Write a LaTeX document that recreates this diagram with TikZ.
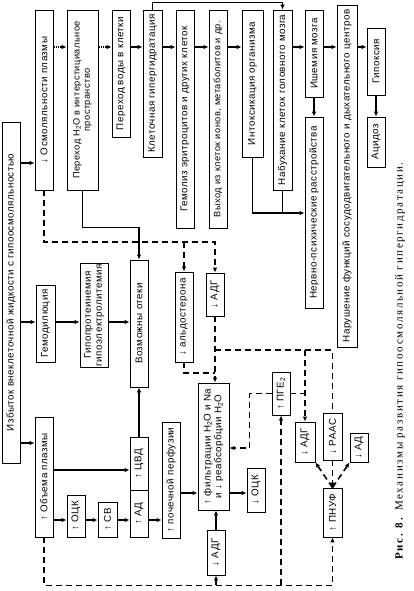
\documentclass[tikz,border=0pt]{standalone}
\usepackage{fontspec}
\setmainfont{Liberation Sans}[LetterSpace=5]
\newfontfamily\capfont{Liberation Serif}[LetterSpace=15]
\usetikzlibrary{arrows.meta}

\begin{document}
\begin{tikzpicture}[x=1pt, y=-1pt,
  box/.style={draw, line width=0.8pt, rotate=90, inner sep=1pt, align=center, font=\fontsize{9.8}{10.8}\selectfont},
  small/.style={font=\fontsize{9.2}{10.4}\selectfont},
  arr/.style={line width=1.3pt, -{Latex[length=5pt, width=4.5pt]}},
  ln/.style={line width=1.3pt},
  dsh/.style={line width=1.6pt, dash pattern=on 6pt off 4pt},
  darr/.style={dsh, -{Latex[length=5pt, width=4.5pt]}},
  dotarr/.style={line width=1.3pt, densely dotted, -{Latex[length=5pt, width=4.5pt]}}]
\fill[white] (0,0) rectangle (413,591);
\useasboundingbox (0,0) rectangle (413,591);
% upper row
\node[box, minimum width=341pt, minimum height=18pt] (izb) at (11,292.5) {Избыток внеклеточной жидкости с гипоосмоляльностью};
\node[box, minimum width=180pt, minimum height=18pt] (osm) at (44,100) {↓ Осмоляльности плазмы};
\node[box, small, minimum width=180pt, minimum height=31pt] (perH) at (82.5,100) {Переход H\textsubscript{2}O в интерстициальное\\пространство};
\node[box, minimum width=127pt, minimum height=18pt] (perv) at (121,73.5) {Переход воды в клетки};
\node[box, minimum width=147pt, minimum height=19pt] (kgg) at (152.5,83.5) {Клеточная гипергидратация};
\node[box, minimum width=218pt, minimum height=18pt] (gem) at (185,119) {Гемолиз эритроцитов и других клеток};
\node[box, small, minimum width=218pt, minimum height=18pt] (vyh) at (218,119) {Выход из клеток ионов, метаболитов и др.};
\node[box, minimum width=147pt, minimum height=21pt] (intox) at (252.5,83.5) {Интоксикация организма};
\node[box, minimum width=180pt, minimum height=19pt] (nab) at (282.5,100) {Набухание клеток головного мозга};
\node[box, minimum width=87pt, minimum height=18pt] (ish) at (314,53.5) {Ишемия мозга};
\node[box, minimum width=191pt, minimum height=18pt] (nerv) at (314,212.5) {Нервно-психические расстройства};
\node[box, minimum width=342pt, minimum height=20pt] (nar) at (347,176) {Нарушение функций сосудодвигательного и дыхательного центров};
\node[box, minimum width=67pt, minimum height=18pt] (gip) at (376,61.5) {Гипоксия};
\node[box, minimum width=50pt, minimum height=18pt] (acid) at (376,142) {Ацидоз};
% middle
\node[box, minimum width=77pt, minimum height=19pt] (gemd) at (45.5,323.5) {Гемодилюция};
\node[box, minimum width=104pt, minimum height=28pt] (gipo) at (94,315) {Гипопротеинемия\\гипоэлектролитемия};
\node[box, minimum width=127pt, minimum height=18pt] (otek) at (139,323.5) {Возможны отеки};
\node[box, minimum width=90pt, minimum height=18pt] (aldo) at (184,317) {↓ альдостерона};
\node[box, minimum width=43pt, minimum height=18pt] (adg1) at (215,294.5) {↓ АДГ};
% lower
\node[box, minimum width=120pt, minimum height=18pt] (ob) at (44,477) {↑ Объема плазмы};
\node[box, minimum width=42pt, minimum height=18pt] (ock1) at (76,516) {↑ ОЦК};
\node[box, minimum width=35pt, minimum height=19pt] (sv) at (107.5,519.5) {↑ СВ};
\node[box, minimum width=53pt, minimum height=18pt] (cvd) at (139,463.5) {↑ ЦВД};
\node[box, minimum width=47pt, minimum height=18pt] (ad1) at (139,513.5) {↑ АД};
\node[box, minimum width=116pt, minimum height=18pt] (poch) at (171,480) {↑ почечной перфузии};
\node[box, minimum width=127pt, minimum height=31pt] (filt) at (213.5,446.5) {↑ фильтрации H\textsubscript{2}O и Na\\и ↓ реабсорбции H\textsubscript{2}O};
\node[box, minimum width=44pt, minimum height=18pt] (ock2) at (256,490) {↓ ОЦК};
\node[box, minimum width=45pt, minimum height=18pt] (adg2) at (216,552.5) {↓ АДГ};
\node[box, minimum width=43pt, minimum height=18pt] (pge) at (281,393.5) {↑ ПГЕ\textsubscript{2}};
\node[box, minimum width=40pt, minimum height=20pt] (adg3) at (305,442) {↓ АДГ};
\node[box, minimum width=47pt, minimum height=19pt] (raas) at (332.5,436.5) {↓ РААС};
\node[box, minimum width=29pt, minimum height=18pt] (ad2) at (359,447.5) {↓ АД};
\node[box, minimum width=49pt, minimum height=19pt] (pnuf) at (332.5,512.5) {↑ ПНУФ};
\node[rotate=90, font=\capfont\fontsize{11}{13}\selectfont] (cap) at (400,361) {\textbf{Рис. 8.} Механизмы развития гипоосмоляльной гипергидратации.};
% solid connectors
\draw[dotarr] (osm.south |- 0,47) -- (perH.north |- 0,47);
\draw[dotarr] (perH.south |- 0,47) -- (perv.north |- 0,47);
\draw[arr] (perv.south |- 0,47) -- (kgg.north |- 0,47);
\draw[arr] (kgg.south |- 0,47) -- (gem.north |- 0,47);
\draw[arr] (gem.south |- 0,47) -- (vyh.north |- 0,47);
\draw[arr] (vyh.south |- 0,47) -- (intox.north |- 0,47);
\draw[arr] (nab.south |- 0,47) -- (ish.north |- 0,47);
\draw[arr] (ish.south |- 0,47) -- (nar.north |- 0,47);
\draw[arr] (nar.south |- 0,47) -- (gip.north |- 0,47);
\draw[arr] (kgg.east) -- ++(0,-7) -| (nab.east);
\draw[arr] (ish.west) -- (nerv.east);
\draw[arr] (gip.west) -- (acid.east);
\draw[arr] (intox.west) |- (nerv.north |- 0,213);
\draw[ln] (nab.west) -- (nab.west |- 0,213);
\draw[arr] (izb.south |- 0,163) -- (osm.north |- 0,163);
\draw[arr] (izb.south |- 0,322) -- (gemd.north |- 0,322);
\draw[arr] (izb.south |- 0,443) -- (ob.north |- 0,443);
\draw[arr] (gemd.south |- 0,322) -- (gipo.north |- 0,322);
\draw[arr] (gipo.south |- 0,322) -- (otek.north |- 0,322);
\draw[arr] (perH.west) -- ++(0,37) -| (otek.east);
\draw[arr] (ob.south |- 0,470) -- (cvd.north |- 0,470);
\draw[arr] (ob.south |- 0,520) -- (ock1.north |- 0,520);
\draw[arr] (ock1.south |- 0,520) -- (sv.north |- 0,520);
\draw[arr] (sv.south |- 0,520) -- (ad1.north |- 0,520);
\draw[arr] (ad1.south |- 0,520) -- (poch.north |- 0,520);
\draw[arr] (cvd.east) -- (otek.west);
\draw[arr] (poch.south |- 0,493) -- (filt.north |- 0,493);
\draw[arr] (filt.south |- 0,493) -- (ock2.north |- 0,493);
\draw[arr] (adg2.east) -- (filt.west -| adg2.east);
% dashed connectors
\draw[darr] (osm.west) |- (adg1.east |- 0,242) -- (adg1.east);
\draw[darr] (aldo.east |- 0,242) -- (aldo.east);
\draw[darr] (adg1.west) -- (filt.east -| adg1.west);
\draw[dsh] (aldo.west) |- (adg1.west |- 0,373);
\draw[dsh] (adg1.west |- 0,350) -| (raas.east);
\draw[darr] (adg3.east |- 0,350) -- (adg3.east);
\draw[dsh] (pge.south) -- (adg3.east |- pge.south);
\draw[darr] (pge.north) -- ++(-22,0) |- (filt.south |- 0,448);
\draw[darr] (ob.west) -- ++(0,48) -| (pnuf.west);
\draw[darr] (adg2.west |- 0,585) -- (adg2.west);
\draw[darr] (pge.west |- 0,585) -- (pge.west);
\draw[darr] (pnuf.east) -- (adg3.south west);
\draw[darr] (pnuf.east) -- (ad2.north west);
\draw[darr] (raas.west) -- (pnuf.east);
\end{tikzpicture}
\end{document}
